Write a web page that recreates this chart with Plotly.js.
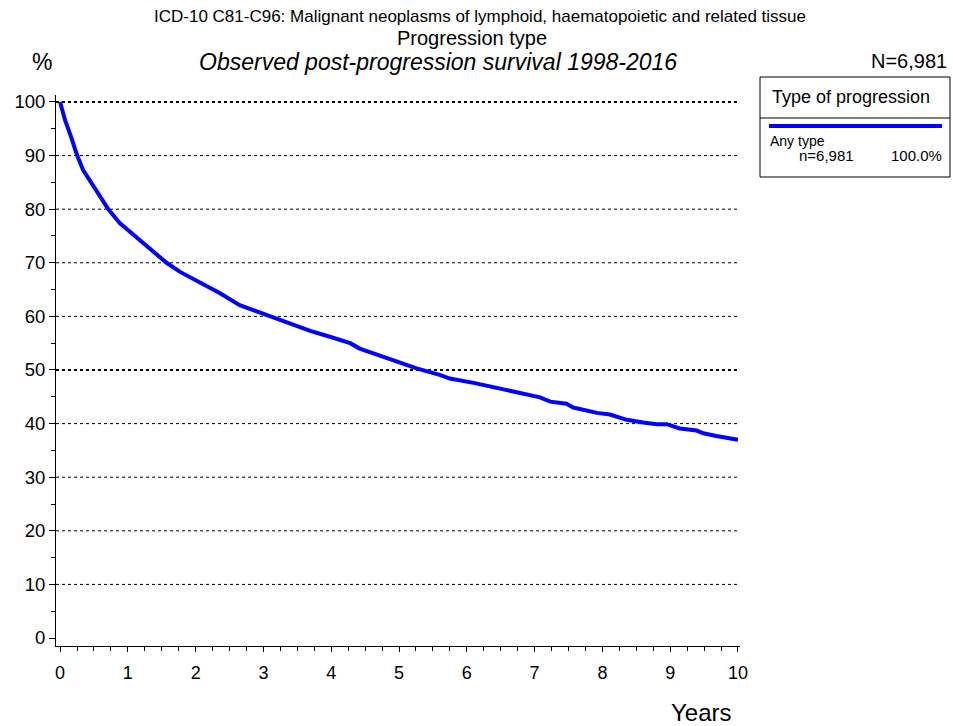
<!DOCTYPE html>
<html>
<head>
<meta charset="utf-8">
<script src="https://cdn.plot.ly/plotly-3.0.1.min.js"></script>
<style>html,body{margin:0;padding:0;background:#fff;}#chart{width:953px;height:726px;}</style>
</head>
<body>
<div id="chart"></div>
<script>
// ---- data ----
const seriesName = "Any type";
const seriesCount = "n=6,981";
const seriesShare = "100.0%";
const totalN = "N=6,981";
const years = [0, 0.074, 0.17, 0.25, 0.34, 0.47, 0.59, 0.71, 0.88, 1.08, 1.33, 1.57, 1.77, 2.02, 2.26, 2.36, 2.65, 2.85, 3.10, 3.39, 3.69, 3.98, 4.13, 4.28, 4.42, 4.92, 5.26, 5.60, 5.75, 6.10, 6.39, 6.69, 6.93, 7.08, 7.23, 7.47, 7.57, 7.92, 8.11, 8.36, 8.60, 8.80, 8.95, 9.14, 9.39, 9.49, 9.68, 9.98, 10.0];
const survival = [100, 96.6, 93.2, 90.1, 87.3, 84.8, 82.3, 80.0, 77.4, 75.2, 72.6, 70.0, 68.3, 66.6, 65.0, 64.3, 62.1, 61.2, 60.0, 58.6, 57.3, 56.2, 55.6, 55.0, 54.0, 51.7, 50.3, 49.1, 48.4, 47.6, 46.8, 46.1, 45.3, 44.9, 44.1, 43.7, 43.0, 42.0, 41.7, 40.7, 40.2, 39.9, 39.9, 39.1, 38.7, 38.2, 37.7, 37.1, 37.0];
const yTicks = [0, 10, 20, 30, 40, 50, 60, 70, 80, 90, 100];
const xTicks = [0, 1, 2, 3, 4, 5, 6, 7, 8, 9, 10];
const boldGrid = [50, 100];
const titleLines = [
  "ICD-10 C81-C96: Malignant neoplasms of lymphoid, haematopoietic and related tissue",
  "Progression type",
  "Observed post-progression survival 1998-2016"
];
const legendTitle = "Type of progression";

// ---- layout helpers (pixel -> paper) ----
const W = 953, H = 726;
const M = {l: 56, r: 213, t: 95, b: 80};
const PW = W - M.l - M.r, PH = H - M.t - M.b;
const px = x => (x - M.l) / PW;
const py = y => (H - M.b - y) / PH;
const FONT = "Liberation Sans, Arial, sans-serif";

const shapes = [];
yTicks.filter(v => v > 0).forEach(v => {
  shapes.push({type: 'line', xref: 'paper', yref: 'y', x0: 0, x1: 1, y0: v, y1: v, layer: 'below',
    line: {color: 'black', width: boldGrid.includes(v) ? 2 : 1, dash: 'dot'}});
});
// legend box
shapes.push({type: 'rect', xref: 'paper', yref: 'paper', x0: px(760), x1: px(950), y0: py(177), y1: py(77),
  line: {color: 'black', width: 1}, fillcolor: 'rgba(0,0,0,0)'});
shapes.push({type: 'line', xref: 'paper', yref: 'paper', x0: px(760), x1: px(950), y0: py(118), y1: py(118),
  line: {color: 'black', width: 1}});
shapes.push({type: 'line', xref: 'paper', yref: 'paper', x0: px(769), x1: px(942), y0: py(126), y1: py(126),
  line: {color: '#0000ff', width: 4}});

const ann = (text, x, y, size, xanchor, extra) => Object.assign({
  text, xref: 'paper', yref: 'paper', x: px(x), y: py(y), xanchor: xanchor || 'center', yanchor: 'middle',
  showarrow: false, font: {family: FONT, size: size, color: 'black'}
}, extra || {});

const annotations = [
  ann(titleLines[0], 480, 16, 17),
  ann(titleLines[1], 472, 38, 20),
  ann('<i>' + titleLines[2] + '</i>', 438, 62, 23),
  ann('%', 42, 62, 23),
  ann(totalN, 949, 61, 20, 'right'),
  ann('Years', 734, 712, 24, 'right'),
  ann(legendTitle, 770, 97, 18, 'left'),
  ann(seriesName, 768, 141, 14, 'left'),
  ann(seriesCount, 797, 155, 15, 'left'),
  ann(seriesShare, 944, 155, 15, 'right')
];

const trace = {
  x: years, y: survival, type: 'scatter', mode: 'lines', name: seriesName,
  line: {color: '#0000ff', width: 4}, hoverinfo: 'skip'
};

const layout = {
  width: W, height: H, margin: M, showlegend: false,
  paper_bgcolor: 'white', plot_bgcolor: 'white',
  font: {family: FONT, size: 18, color: 'black'},
  xaxis: {
    range: [-0.06, 10.03], tickvals: xTicks, ticktext: xTicks.map(String),
    showgrid: false, zeroline: false, showline: true, linecolor: 'black', linewidth: 1,
    ticks: 'outside', ticklen: 5, tickcolor: 'black', tickwidth: 1, ticklabelstandoff: 5,
    minor: {dtick: 0.25, tick0: 0, ticks: 'outside', ticklen: 4, tickcolor: 'black', showgrid: false},
    tickfont: {family: FONT, size: 18}, fixedrange: true
  },
  yaxis: {
    range: [-1.49, 101.3], tickvals: yTicks, ticktext: yTicks.map(String),
    showgrid: false, zeroline: false, showline: true, linecolor: 'black', linewidth: 1,
    ticks: 'outside', ticklen: 6, tickcolor: 'black', tickwidth: 1,
    minor: {dtick: 5, tick0: 0, ticks: 'outside', ticklen: 4, tickcolor: 'black', showgrid: false},
    tickfont: {family: FONT, size: 18.5}, fixedrange: true
  },
  shapes, annotations
};

Plotly.newPlot('chart', [trace], layout, {displayModeBar: false, staticPlot: true});
</script>
</body>
</html>
